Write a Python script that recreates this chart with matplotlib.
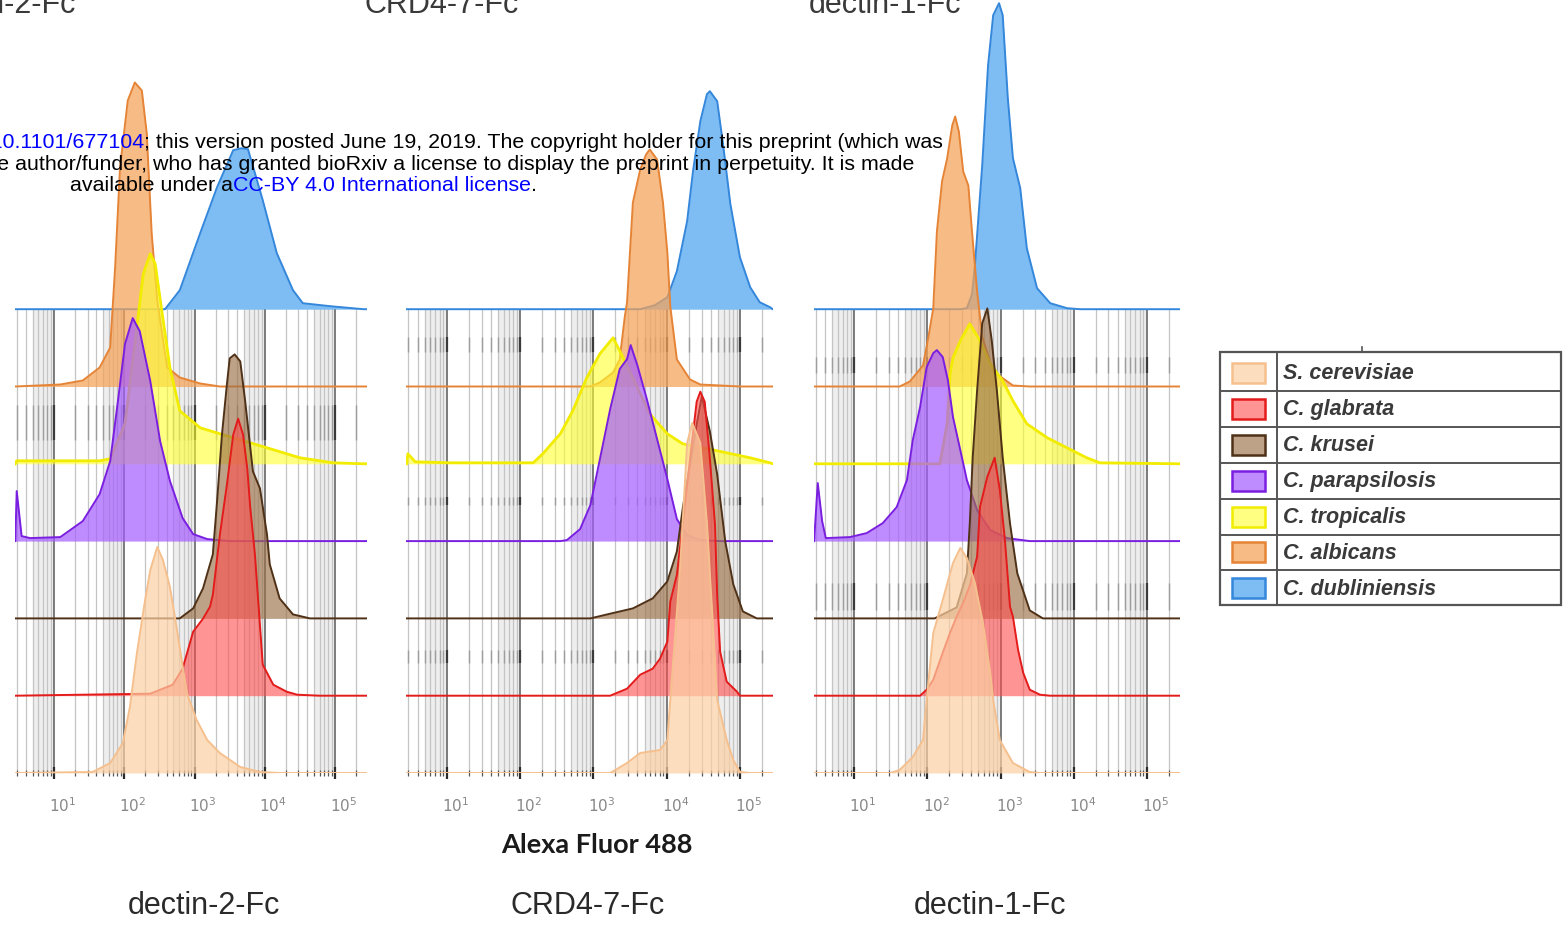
# -*- coding: utf-8 -*-
"""Stacked flow cytometry histograms of Fc-lectin binding to yeast species."""

# *****************************************************************************
# *** Import modules
import numpy as np
import matplotlib
matplotlib.use('Agg')
import matplotlib.pyplot as plt
from matplotlib.patches import Rectangle
# *****************************************************************************


# *****************************************************************************
# *** Data (x: log10 Alexa Fluor 488 intensity, y: cell counts)

lstSpecies = ['S. cerevisiae', 'C. glabrata', 'C. krusei', 'C. parapsilosis',
              'C. tropicalis', 'C. albicans', 'C. dubliniensis']
lstPanel = ['dectin-2-Fc', 'CRD4-7-Fc', 'dectin-1-Fc']
lstDecade = [1, 2, 3, 4, 5]

# dectin-2-Fc
vecD2CerX = [1.55, 1.80, 1.98, 2.08, 2.18, 2.29, 2.37, 2.47, 2.55, 2.65, 2.75,
             2.89, 3.03, 3.18, 3.36, 3.65, 3.93, 4.21]
vecD2CerY = [1, 10, 30, 66, 120, 170, 203, 226, 213, 186, 143, 80, 53, 33, 20,
             6, 1, 0]
vecD2GlaX = [2.37, 2.69, 2.83, 2.98, 3.12, 3.22, 3.26, 3.36, 3.46, 3.55, 3.62,
             3.69, 3.75, 3.79, 3.86, 3.90, 3.97, 4.12, 4.31, 4.46, 4.78]
vecD2GlaY = [2, 11, 27, 64, 77, 89, 101, 161, 211, 261, 277, 261, 227, 190,
             140, 100, 31, 11, 4, 1, 0]
vecD2KruX = [2.79, 2.98, 3.12, 3.26, 3.32, 3.39, 3.46, 3.50, 3.57, 3.65, 3.72,
             3.83, 3.93, 4.03, 4.07, 4.21, 4.40, 4.64]
vecD2KruY = [0, 10, 30, 64, 117, 184, 234, 260, 264, 257, 217, 147, 130, 84,
             54, 20, 4, 0]
vecD2ParX = [0.47, 0.54, 0.66, 1.09, 1.41, 1.65, 1.80, 1.91, 2.01, 2.12, 2.22,
             2.37, 2.51, 2.65, 2.83, 2.98, 3.18, 3.50]
vecD2ParY = [50, 5, 3, 4, 20, 47, 80, 140, 197, 223, 210, 160, 100, 60, 23, 7,
             2, 0]
vecD2TroX = [0.47, 1.65, 1.80, 2.01, 2.15, 2.27, 2.37, 2.44, 2.54, 2.65, 2.79,
             3.08, 3.55, 4.03, 4.50, 4.97, 5.40]
vecD2TroY = [3, 3, 5, 40, 120, 190, 210, 200, 150, 96, 53, 36, 26, 16, 6, 1, 0]
vecD2AlbX = [1.09, 1.41, 1.65, 1.80, 1.87, 1.94, 2.05, 2.15, 2.25, 2.32, 2.39,
             2.47, 2.61, 2.79, 3.08, 3.36]
vecD2AlbY = [2, 6, 19, 39, 119, 219, 286, 304, 296, 253, 153, 86, 19, 9, 3, 0]
vecD2DubX = [2.58, 2.79, 3.08, 3.32, 3.55, 3.67, 3.76, 3.97, 4.17, 4.40, 4.54,
             4.93, 5.40]
vecD2DubY = [0, 19, 76, 122, 159, 161, 160, 109, 56, 19, 6, 3, 0]

# CRD4-7-Fc
vecCrCerX = [3.23, 3.46, 3.64, 3.91, 4.01, 4.05, 4.18, 4.28, 4.35, 4.46, 4.55,
             4.63, 4.69, 4.82, 4.91, 5.00, 5.14]
vecCrCerY = [0, 10, 20, 23, 33, 73, 200, 330, 350, 330, 250, 150, 73, 33, 13,
             1, 0]
vecCrGlaX = [3.23, 3.46, 3.64, 3.81, 3.91, 4.01, 4.05, 4.14, 4.22, 4.32, 4.41,
             4.46, 4.52, 4.59, 4.66, 4.69, 4.73, 4.82, 4.96, 5.00]
vecCrGlaY = [0, 7, 21, 27, 37, 54, 94, 121, 171, 237, 294, 304, 294, 237, 171,
             100, 44, 14, 4, 0]
vecCrKruX = [2.96, 3.19, 3.54, 3.81, 4.01, 4.14, 4.22, 4.32, 4.41, 4.48, 4.59,
             4.69, 4.80, 4.91, 5.04, 5.23]
vecCrKruY = [0, 4, 10, 20, 37, 67, 110, 154, 194, 222, 187, 144, 77, 34, 7, 0]
vecCrParX = [2.55, 2.64, 2.82, 2.96, 3.09, 3.23, 3.36, 3.46, 3.51, 3.60, 3.73,
             3.87, 4.01, 4.14, 4.28, 4.46, 4.73]
vecCrParY = [0, 1, 12, 36, 82, 132, 172, 182, 196, 176, 142, 102, 62, 22, 6,
             1, 0]
vecCrTroX = [0.47, 0.57, 1.05, 2.18, 2.31, 2.55, 2.72, 2.91, 3.09, 3.27, 3.36,
             3.54, 3.77, 4.01, 4.22, 4.69, 5.14, 5.41]
vecCrTroY = [10, 2, 1, 1, 10, 30, 53, 86, 110, 126, 113, 86, 50, 30, 20, 13, 6,
             1]
vecCrAlbX = [2.96, 3.09, 3.27, 3.36, 3.43, 3.46, 3.50, 3.54, 3.64, 3.72, 3.77,
             3.87, 3.95, 4.01, 4.05, 4.14, 4.32, 4.46, 4.73, 5.00]
vecCrAlbY = [0, 4, 14, 27, 70, 84, 134, 184, 217, 232, 237, 227, 184, 134, 80,
             27, 7, 2, 1, 0]
vecCrDubX = [3.64, 3.84, 4.01, 4.14, 4.28, 4.36, 4.46, 4.55, 4.59, 4.69, 4.77,
             4.87, 5.00, 5.14, 5.27, 5.41]
vecCrDubY = [0, 4, 12, 38, 88, 138, 188, 215, 218, 208, 165, 105, 52, 22, 7, 2]

# dectin-1-Fc
vecD1CerX = [1.49, 1.62, 1.80, 1.94, 1.99, 2.08, 2.21, 2.35, 2.45, 2.54, 2.65,
             2.76, 2.86, 2.90, 2.99, 3.17, 3.40, 3.54]
vecD1CerY = [0, 3, 16, 33, 73, 140, 173, 210, 225, 215, 190, 150, 100, 73, 33,
             10, 1, 0]
vecD1GlaX = [1.90, 1.99, 2.08, 2.21, 2.31, 2.40, 2.49, 2.58, 2.68, 2.72, 2.82,
             2.92, 2.99, 3.06, 3.13, 3.17, 3.24, 3.31, 3.40, 3.54, 3.68]
vecD1GlaY = [0, 6, 16, 43, 63, 79, 93, 110, 139, 189, 219, 238, 206, 156, 89,
             79, 46, 23, 6, 1, 0]
vecD1KruX = [2.10, 2.40, 2.54, 2.58, 2.62, 2.68, 2.75, 2.82, 2.88, 2.95, 3.03,
             3.13, 3.23, 3.40, 3.58]
vecD1KruY = [0, 11, 45, 95, 161, 228, 295, 310, 278, 228, 161, 95, 45, 8, 0]
vecD1ParX = [0.50, 0.56, 0.61, 0.94, 1.17, 1.39, 1.58, 1.72, 1.80, 1.90, 1.99,
             2.08, 2.13, 2.21, 2.28, 2.35, 2.45, 2.54, 2.68, 2.86, 3.09, 3.40]
vecD1ParY = [58, 20, 3, 4, 8, 18, 34, 61, 101, 134, 174, 188, 191, 184, 161,
             124, 91, 61, 31, 11, 3, 0]
vecD1TroX = [2.17, 2.27, 2.31, 2.35, 2.45, 2.58, 2.72, 2.86, 3.03, 3.17, 3.36,
             3.64, 3.91, 4.18, 4.36]
vecD1TroY = [0, 40, 90, 106, 123, 140, 123, 100, 83, 63, 40, 26, 16, 6, 1]
vecD1AlbX = [1.62, 1.76, 1.94, 2.01, 2.08, 2.13, 2.20, 2.27, 2.34, 2.38, 2.43,
             2.49, 2.56, 2.61, 2.68, 2.75, 2.90, 3.17, 3.40]
vecD1AlbY = [0, 5, 21, 48, 78, 155, 205, 228, 261, 270, 255, 215, 201, 155, 95,
             50, 15, 1, 0]
vecD1DubX = [2.45, 2.54, 2.61, 2.65, 2.75, 2.83, 2.90, 2.98, 3.03, 3.10, 3.17,
             3.27, 3.36, 3.50, 3.68, 3.91, 4.09]
vecD1DubY = [0, 1, 15, 44, 144, 244, 294, 306, 294, 211, 151, 121, 61, 21, 6,
             1, 0]

# Curves per panel, in the order of lstSpecies:
lstCurves = [
    [(vecD2CerX, vecD2CerY), (vecD2GlaX, vecD2GlaY), (vecD2KruX, vecD2KruY),
     (vecD2ParX, vecD2ParY), (vecD2TroX, vecD2TroY), (vecD2AlbX, vecD2AlbY),
     (vecD2DubX, vecD2DubY)],
    [(vecCrCerX, vecCrCerY), (vecCrGlaX, vecCrGlaY), (vecCrKruX, vecCrKruY),
     (vecCrParX, vecCrParY), (vecCrTroX, vecCrTroY), (vecCrAlbX, vecCrAlbY),
     (vecCrDubX, vecCrDubY)],
    [(vecD1CerX, vecD1CerY), (vecD1GlaX, vecD1GlaY), (vecD1KruX, vecD1KruY),
     (vecD1ParX, vecD1ParY), (vecD1TroX, vecD1TroY), (vecD1AlbX, vecD1AlbY),
     (vecD1DubX, vecD1DubY)],
]
# *****************************************************************************


# *****************************************************************************
# *** Figure parameters

varW = 1566.0
varH = 927.0
varDpi = 100.0
strFont = 'Liberation Sans'

# Fill colour, fill alpha, outline colour (order of lstSpecies):
lstFill = ['#FBCFA3', '#FF4D4D', '#9C7148', '#A55CFF', '#FFFF2E', '#F5A358',
           '#5AA9F2']
lstAlpha = [0.7, 0.6, 0.65, 0.7, 0.6, 0.72, 0.78]
lstEdge = ['#F5C08E', '#E31B1B', '#4F3117', '#7A1FE0', '#F2EC00', '#E58436',
           '#3487DA']

# Vertical offset between stacked histograms (counts):
varStep = 77.3
varYmax = 773.0
# x-range in log10 units, shared by the three panels:
varXmin = 0.45
varXmax = 5.45

# Panel boxes in pixels (left, right):
lstBox = [(15.3, 366.8), (406.4, 772.9), (814.1, 1179.6)]
varAxBot = 773.0

# Extra rows of faint tick marks from the overlaid plots (counts, per panel):
lstGhost = [[(333, 368)],
            [(421, 436), (268, 276), (110, 123)],
            [(400, 416), (163, 190)]]


def fncFig(varX0, varY0, varX1, varY1):
    """Pixel box (top-left origin) to figure fraction rectangle."""
    return [varX0 / varW, 1.0 - varY1 / varH,
            (varX1 - varX0) / varW, (varY1 - varY0) / varH]
# *****************************************************************************


# *****************************************************************************
# *** Create figure

fgr01 = plt.figure(figsize=(varW / varDpi, varH / varDpi), dpi=varDpi)
fgr01.patch.set_facecolor('white')

# Minor and decade positions of the log axis:
vecMinor = np.array([np.log10(m) + n for n in range(0, 6)
                     for m in range(2, 10)])
vecMinor = vecMinor[(vecMinor > varXmin) & (vecMinor < varXmax)]
vecMajor = np.array([0.0, 1.0, 2.0, 3.0, 4.0, 5.0])
vecMajor = vecMajor[(vecMajor > varXmin) & (vecMajor < varXmax)]

for idxPnl in range(3):

    varL, varR = lstBox[idxPnl]
    axs01 = fgr01.add_axes(fncFig(varL, 0.0, varR, varAxBot))
    axs01.set_xscale('log')
    axs01.set_xlim(10 ** varXmin, 10 ** varXmax)
    axs01.set_ylim(0.0, varYmax)
    axs01.patch.set_alpha(0.0)
    for strTmp in ['top', 'bottom', 'left', 'right']:
        axs01.spines[strTmp].set_visible(False)
    axs01.set_yticks([])
    axs01.tick_params(axis='x', which='major', length=9, width=1.6,
                      color='#2a2a2a', direction='inout', labelbottom=False)
    axs01.tick_params(axis='x', which='minor', length=4, width=0.9,
                      color='#555555', direction='inout', labelbottom=False)

    varTop = 6 * varStep

    # Grey bands left of each decade:
    for varDec in range(1, 6):
        axs01.axvspan(10 ** (varDec - 0.3), 10 ** varDec, ymin=0.0,
                      ymax=varTop / varYmax, color='#eeeeee', lw=0, zorder=0)

    # Vertical grid lines:
    axs01.vlines(10 ** vecMinor, 0.0, varTop, color='#c4c4c4', lw=0.9,
                 zorder=0.5)
    axs01.vlines(10 ** vecMajor, 0.0, varTop, color='#666666', lw=1.2,
                 zorder=0.6)
    for varG0, varG1 in lstGhost[idxPnl]:
        axs01.vlines(10 ** vecMinor, varG0, varG1, color='#9d9d9d', lw=1.0,
                     zorder=0.7)
        axs01.vlines(10 ** vecMajor, varG0, varG1, color='#3a3a3a', lw=1.6,
                     zorder=0.7)

    # Histograms, top row first so lower rows sit on top:
    for idxSp in range(6, -1, -1):
        vecX, vecY = lstCurves[idxPnl][idxSp]
        varBase = idxSp * varStep
        vecLx = 10 ** np.concatenate(([varXmin], vecX, [varXmax]))
        vecLy = np.concatenate(([0.0], vecY, [0.0])) + varBase
        varZ = 2 + 2 * (6 - idxSp)
        axs01.fill_between(vecLx, varBase, vecLy, color=lstFill[idxSp],
                           alpha=lstAlpha[idxSp], lw=0, zorder=varZ)
        axs01.plot(vecLx, vecLy, color=lstEdge[idxSp],
                   lw=2.0 if idxSp == 4 else 1.4, zorder=varZ + 1,
                   solid_joinstyle='round')

    # Decade labels:
    for varDec in lstDecade:
        axs01.text(10 ** (varDec + 0.12), -39.0, r'$10^{%d}$' % varDec,
                   ha='center', va='baseline', fontsize=11, color='#888888',
                   family=strFont)
# *****************************************************************************


# *****************************************************************************
# *** Panel titles and axis label

lstTopX = [0.0, 442.0, 885.0]
lstBotX = [204.0, 588.0, 990.0]
for idxPnl in range(3):
    fgr01.text(lstTopX[idxPnl] / varW, 1.0 - 13.0 / varH, lstPanel[idxPnl],
               ha='center', va='baseline', fontsize=22, color='#3a3a3a',
               family=strFont)
    fgr01.text(lstBotX[idxPnl] / varW, 1.0 - 914.0 / varH, lstPanel[idxPnl],
               ha='center', va='baseline', fontsize=22, color='#2a2a2a',
               family=strFont)

fgr01.text(597.0 / varW, 1.0 - 853.0 / varH, 'Alexa Fluor 488', ha='center',
           va='baseline', fontsize=19.5, fontweight='bold', color='#1a1a1a',
           family='Lato')
# *****************************************************************************


# *****************************************************************************
# *** Legend table

axsLeg = fgr01.add_axes(fncFig(1215.0, 340.0, 1566.0, 612.0))
axsLeg.set_xlim(1215.0, 1566.0)
axsLeg.set_ylim(612.0, 340.0)
axsLeg.axis('off')

varRow0 = 355.0
varRowH = 35.9
axsLeg.add_patch(Rectangle((1220.0, 352.0), 341.0, 253.0, fill=False,
                           ec='#555555', lw=1.6))
axsLeg.plot([1277.0, 1277.0], [352.0, 605.0], color='#555555', lw=1.4)
axsLeg.plot([1362.0, 1362.0], [347.0, 352.0], color='#555555', lw=1.2)
for idxSp in range(7):
    varYc = varRow0 + (idxSp + 0.5) * varRowH
    if idxSp > 0:
        axsLeg.plot([1220.0, 1561.0], [varRow0 + idxSp * varRowH] * 2,
                    color='#555555', lw=1.4)
    axsLeg.add_patch(Rectangle((1232.0, varYc - 10.0), 33.0, 20.0,
                               fc=lstFill[idxSp], alpha=lstAlpha[idxSp],
                               ec='none'))
    axsLeg.add_patch(Rectangle((1232.0, varYc - 10.0), 33.0, 20.0,
                               fill=False, ec=lstEdge[idxSp], lw=1.8))
    axsLeg.text(1283.0, varYc + 1.0, lstSpecies[idxSp], ha='left',
                va='center', fontsize=15.5, style='italic', fontweight='bold',
                color='#3a3a3a', family=strFont)
# *****************************************************************************


# *****************************************************************************
# *** bioRxiv header overlay

rnd01 = fgr01.canvas.get_renderer()


def fncSegments(lstSeg, varX, varY, blnRight):
    """Draw coloured text segments side by side on one baseline."""
    varCur = varX
    lstSeq = list(reversed(lstSeg)) if blnRight else lstSeg
    for strTxt, strCol in lstSeq:
        txt01 = fgr01.text(varCur / varW, 1.0 - varY / varH, strTxt,
                           color=strCol, fontsize=15.4, family=strFont,
                           ha='right' if blnRight else 'left',
                           va='baseline', zorder=50)
        bbx01 = txt01.get_window_extent(renderer=rnd01)
        varCur = bbx01.x0 if blnRight else bbx01.x1


fncSegments([('bioRxiv preprint doi: ', 'black'),
             ('https://doi.org/10.1101/677104', '#0000ff'),
             ('; this version posted June 19, 2019. The copyright holder for '
              'this preprint (which was', 'black')],
            943.0, 148.0, True)
fncSegments([('not certified by peer review) is the author/funder, who has '
              'granted bioRxiv a license to display the preprint in '
              'perpetuity. It is made', 'black')],
            914.0, 169.5, True)
fncSegments([('available under a', 'black'),
             ('CC-BY 4.0 International license', '#0000ff'),
             ('.', 'black')],
            70.0, 191.0, False)
# *****************************************************************************


# Save figure:
fgr01.savefig('out.png', dpi=varDpi, facecolor='w')
plt.close(fgr01)
